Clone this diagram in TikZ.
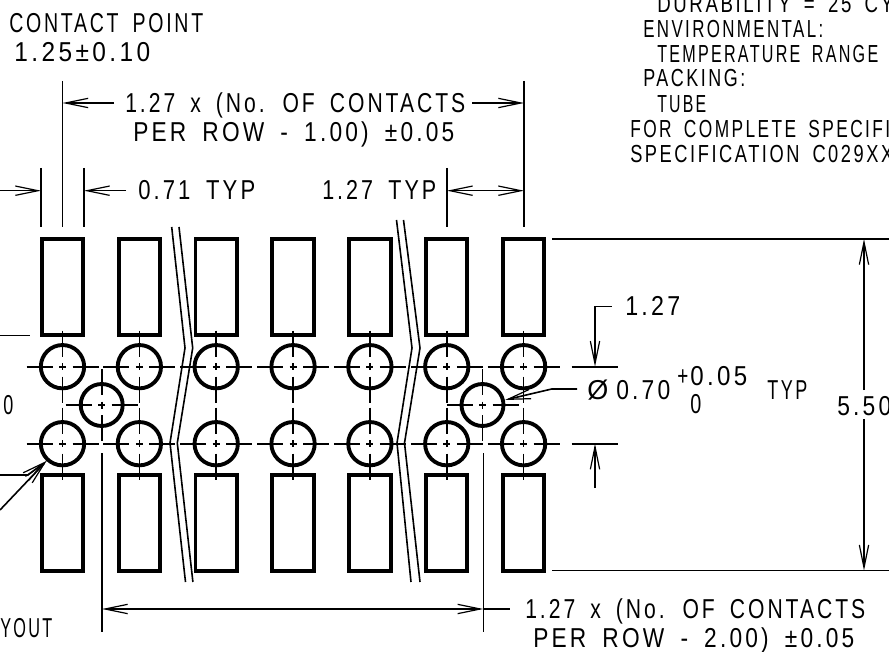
\documentclass[tikz,border=0pt]{standalone}
\usepackage{fontspec}
\usepackage{graphicx}
\setmainfont{Liberation Sans}[LetterSpace=14,WordSpace=1.7]
\usetikzlibrary{arrows.meta}
\newlength{\pxu}
\setlength{\pxu}{0.75pt}
\tikzstyle{thin line} = [line width=1.2pt]
\tikzstyle{pad} = [rectangle,draw=black,line width=2.9pt,minimum width=31pt,minimum height=72pt,inner sep=0pt]
\tikzstyle{hole} = [circle,draw=black,line width=2.9pt,minimum size=32.5pt,inner sep=0pt]
\tikzstyle{dim} = [anchor=base west,inner sep=0pt,font=\fontsize{20.5}{20.5}\selectfont]
\tikzstyle{note} = [dim,font=\fontsize{18.5}{18.5}\selectfont]
\tikzset{>={Straight Barb[length=17pt,width=7pt,line width=0.9pt]}}
\newcommand{\fitw}[2]{\resizebox{#1\pxu}{\height}{#2}}
\newcommand{\centermark}[2]{ %
  % Dashes and small cross of one hole.
  \draw[thin line] (#1-36,#2) -- (#1-10,#2) (#1-3.5,#2) -- (#1+3.5,#2) (#1+10,#2) -- (#1+36,#2);
  \draw[thin line] (#1,#2-36) -- (#1,#2-10) (#1,#2-3.5) -- (#1,#2+3.5) (#1,#2+10) -- (#1,#2+36);
}

\begin{document}
\begin{tikzpicture}[x=0.75pt,y=-0.75pt]
  \useasboundingbox (0,0) rectangle (889,652);

  \foreach \i [evaluate=\i as \px using 62.5+76.85*\i] in {0,...,6} {
    \node[pad] (padu\i) at (\px,287.3) {};
    \node[pad] (padl\i) at (\px,523) {};
    \node[hole] (holeu\i) at (\px,366.7) {};
    \node[hole] (holel\i) at (\px,443.7) {};
    \centermark{\px}{366.7}
    \centermark{\px}{443.7}
  }
  \node[hole, minimum size=31.5pt] (holea) at (101.7,405) {};
  \node[hole, minimum size=31.5pt] (holeb) at (482.5,405) {};
  \centermark{101.7}{405}
  \centermark{482.5}{405}

  % break lines
  \draw[thin line] (171.7,227) -- (185,348) -- (170,443) -- (185.5,582);
  \draw[thin line] (179,227) -- (192.7,348) -- (177.3,443) -- (192.9,582);
  \draw[thin line] (396.5,220) -- (412,348) -- (397,443) -- (411,582);
  \draw[thin line] (403.5,220) -- (420,348) -- (404.5,443) -- (420,582);

  % extension lines
  \draw[thin line] (62.5,81) -- (62.5,227);
  \draw[thin line] (524,81) -- (524,227);
  \draw[thin line] (41,168) -- (41,227);
  \draw[thin line] (84,168) -- (84,227);
  \draw[thin line] (447,168) -- (447,227);
  \draw[thin line] (552,239) -- (889,239);
  \draw[thin line] (552,570.6) -- (889,570.6);
  \draw[thin line] (571.7,366.7) -- (617.7,366.7);
  \draw[thin line] (571.7,443.7) -- (617.7,443.7);
  \draw[thin line] (0,335.7) -- (30,335.7);
  \draw[thin line] (101.7,453) -- (101.7,631.7);
  \draw[thin line] (483.3,453) -- (483.3,631.7);

  % dimension lines
  \draw[thin line,->] (114,103) -- (62.5,103);
  \draw[thin line,->] (472,103) -- (524,103);
  \draw[thin line,->] (0,190.7) -- (41,190.7);
  \draw[thin line,->] (126,190.7) -- (84,190.7);
  \draw[thin line,<->] (447,190.7) -- (524,190.7);
  \draw[thin line,<->] (102,609) -- (483.3,609);
  \draw[thin line] (483.3,609) -- (510,609);
  \draw[thin line,->] (864,390) -- (864,239);
  \draw[thin line,->] (864,419) -- (864,570.6);
  \draw[thin line,->] (611.7,306.7) -- (595,306.7) -- (595,366.7);
  \draw[thin line,->] (595,488) -- (595,443.7);
  \draw[thin line,->] (577,389) -- (551.7,389) -- (505,400);
  \draw[thin line,->] (0,475) -- (28,475) -- (46.5,461);
  \draw[thin line,->] (0,510) -- (46.5,461);

  % labels
  \node[dim] (contact) at (9,33) {\fitw{194}{CONTACT POINT}};
  \node[dim] (contactval) at (14,62) {\fitw{136}{1.25±0.10}};
  \node[dim] (rowa) at (125,113) {\fitw{340}{1.27 x (No. OF CONTACTS}};
  \node[dim] (rowb) at (133,142) {\fitw{321}{PER ROW - 1.00) ±0.05}};
  \node[dim] (width) at (138,200) {\fitw{117}{0.71 TYP}};
  \node[dim] (pitch) at (322,200) {\fitw{114}{1.27 TYP}};
  \node[dim] (pitchb) at (625,316) {\fitw{55}{1.27}};
  \node[dim] (diasign) at (587,399) {\fitw{21}{Ø}};
  \node[dim] (dia) at (616,399) {\fitw{54}{0.70}};
  \node[dim] (diaplus) at (677,385) {\fitw{11}{+}};
  \node[dim] (diaup) at (690,385) {\fitw{57}{0.05}};
  \node[dim] (diazero) at (690,413) {\fitw{11}{0}};
  \node[dim] (diatyp) at (767,399) {\fitw{40}{TYP}};
  \node[dim] (height) at (837,415) {\fitw{54}{5.50}};
  \node[dim] (leftzero) at (3,414) {\fitw{10}{0}};
  \node[dim] (layout) at (0,637) {\fitw{52}{YOUT}};
  \node[dim] (cola) at (525,618) {\fitw{340}{1.27 x (No. OF CONTACTS}};
  \node[dim] (colb) at (533,647) {\fitw{321}{PER ROW - 2.00) ±0.05}};
  \node[note] (durab) at (657,13) {\fitw{236}{DURABILITY = 25 CY}};
  \node[note] (envir) at (643,38) {\fitw{180}{ENVIRONMENTAL:}};
  \node[note] (temper) at (657,63) {\fitw{221}{TEMPERATURE RANGE}};
  \node[note] (packing) at (643,87) {\fitw{102}{PACKING:}};
  \node[note] (tube) at (657,113) {\fitw{49}{TUBE}};
  \node[note] (specif) at (630,138) {\fitw{260}{FOR COMPLETE SPECIFI}};
  \node[note] (specno) at (630,163) {\fitw{263}{SPECIFICATION C029XX}};
\end{tikzpicture}
\end{document}
